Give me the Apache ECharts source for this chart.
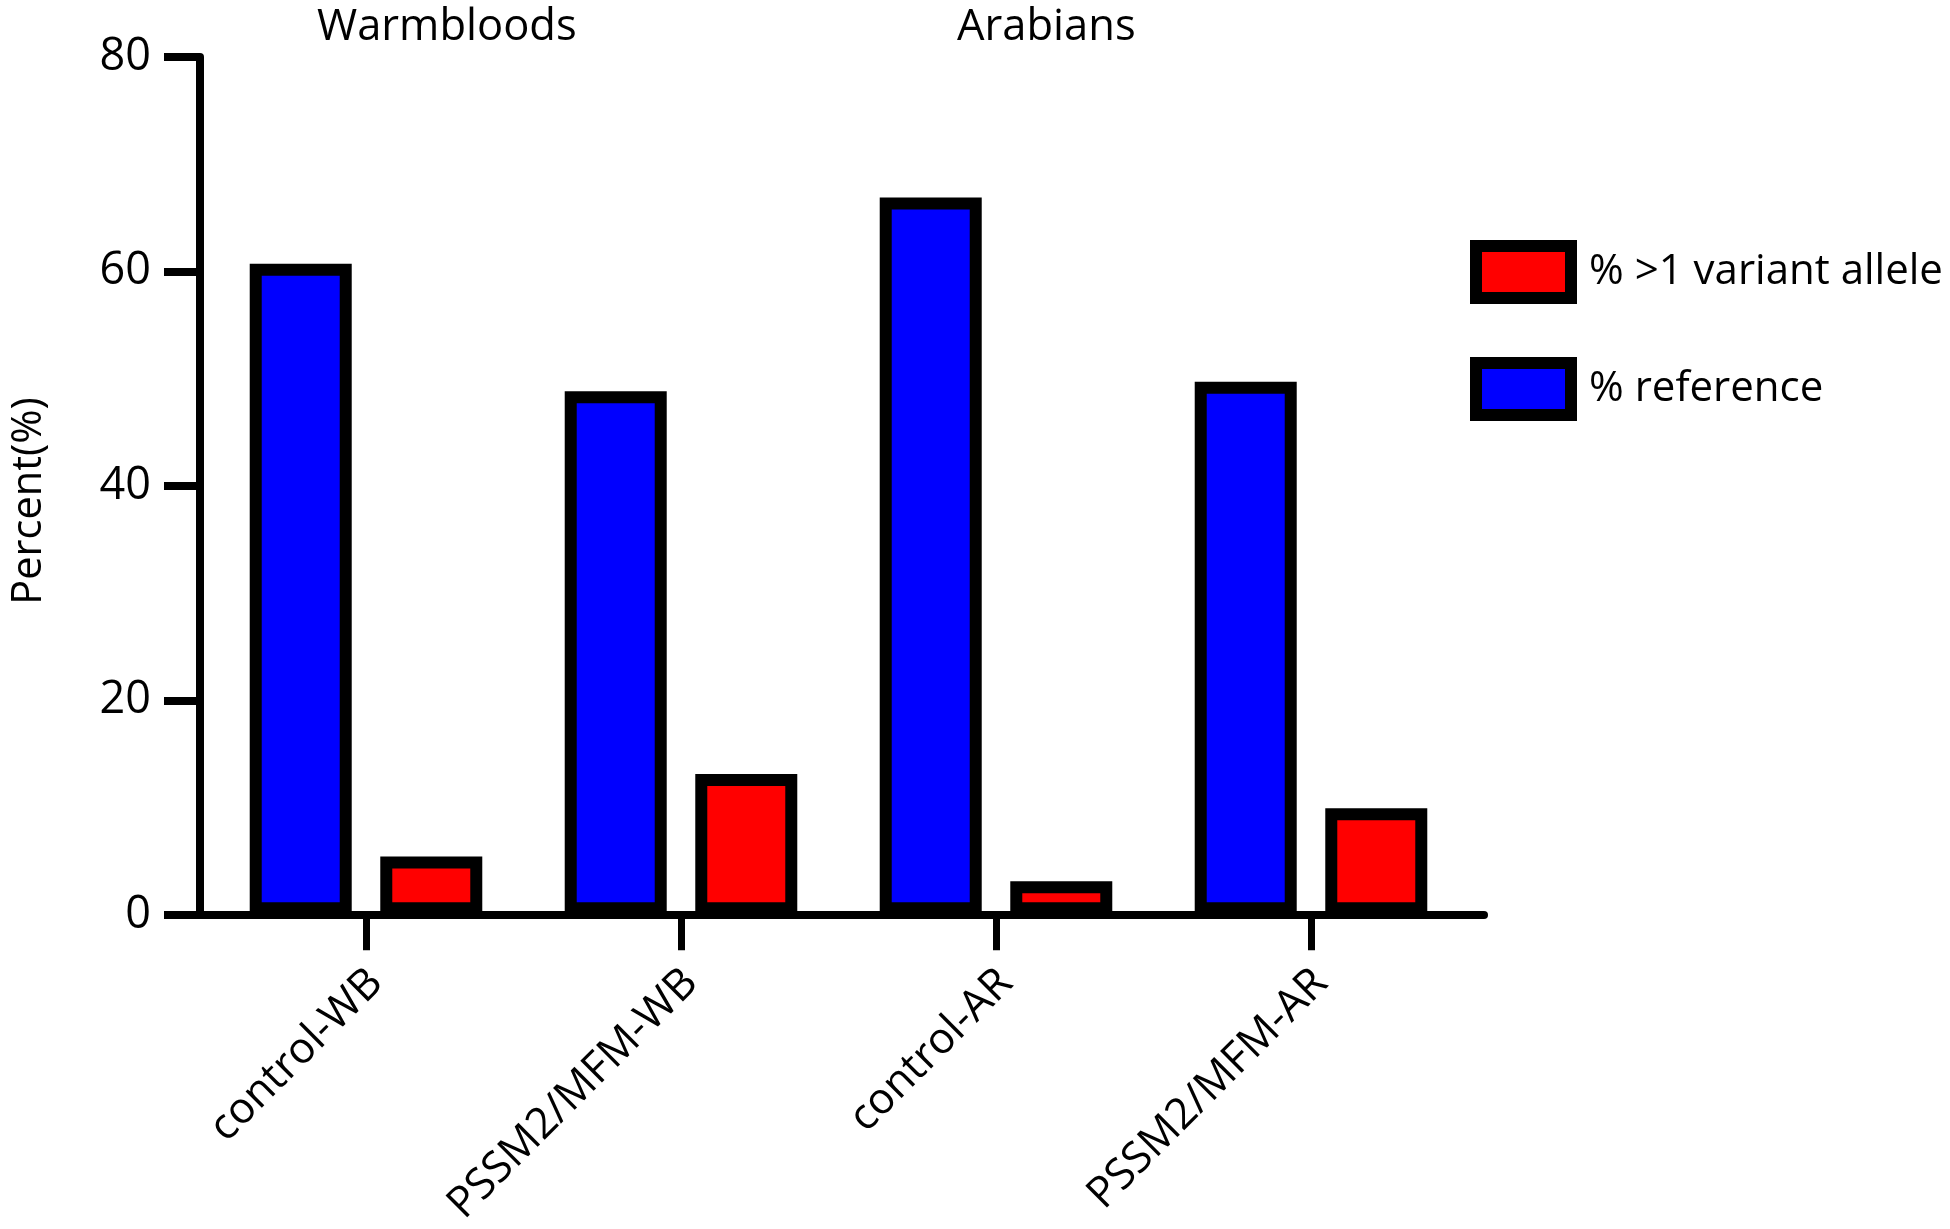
<!DOCTYPE html>
<html><head><meta charset="utf-8">
<script src="https://cdn.jsdelivr.net/npm/echarts@6/dist/echarts.min.js"></script>
<style>html,body{margin:0;padding:0;background:#fff}#c{width:1950px;height:1229px}</style>
</head><body><div id="c"></div>
<script>
const categories = ['control-WB', 'PSSM2/MFM-WB', 'control-AR', 'PSSM2/MFM-AR'];
const referenceValues = [60.7, 48.8, 66.9, 49.7];
const variantValues = [5.4, 13.1, 3.1, 9.9];
const groupTitles = ['Warmbloods', 'Arabians'];
const seriesNames = ['% reference', '% >1 variant allele'];
const yMin = 0, yMax = 80, yStep = 20;

const FONT = 'Open Sans';
const chart = echarts.init(document.getElementById('c'), null, {renderer: 'canvas'});

chart.setOption({
  backgroundColor: '#fff',
  animation: false,
  title: [
    {text: groupTitles[0], left: 317, top: 6, padding: 0, textStyle: {fontFamily: FONT, fontSize: 43.5, fontWeight: 'normal', color: '#000'}},
    {text: groupTitles[1], left: 957, top: 6, padding: 0, textStyle: {fontFamily: FONT, fontSize: 43.5, fontWeight: 'normal', color: '#000'}}
  ],
  legend: {
    orient: 'vertical', left: 1470, top: 240, padding: 0,
    data: [seriesNames[1], seriesNames[0]],
    itemWidth: 95, itemHeight: 52, itemGap: 53,
    icon: 'rect',
    itemStyle: {borderColor: '#000', borderWidth: 12},
    textStyle: {fontFamily: FONT, fontSize: 42, color: '#000', padding: [0, 0, 0, 13]},
    selectedMode: false
  },
  grid: [
    {left: 208.5, top: 57, width: 1260, height: 858, containLabel: false},
    {left: 196, top: 57, width: 1288, height: 858, containLabel: false}
  ],
  xAxis: [
    {
      type: 'category', gridIndex: 0, data: categories,
      axisLine: {show: false},
      axisTick: {show: true, alignWithLabel: true, length: 36, lineStyle: {color: '#000', width: 7}},
      axisLabel: {rotate: 45, margin: 52, fontFamily: FONT, fontSize: 43, color: '#000', interval: 0,
                  verticalAlign: 'top', lineHeight: 28}
    },
    {
      type: 'value', gridIndex: 1, min: 0, max: 1,
      axisLine: {show: true, onZero: false, lineStyle: {color: '#000', width: 8}},
      axisTick: {show: false}, axisLabel: {show: false}, splitLine: {show: false}
    }
  ],
  yAxis: [
    {type: 'value', gridIndex: 0, min: yMin, max: yMax, interval: yStep, show: false, splitLine: {show: false}},
    {
      type: 'value', gridIndex: 1, min: yMin, max: yMax, interval: yStep,
      name: 'Percent(%)', nameLocation: 'middle', nameGap: 150, nameRotate: 90,
      nameTextStyle: {fontFamily: FONT, fontSize: 41.5, color: '#000', padding: [0, 30, 0, 0]},
      axisLine: {show: true, lineStyle: {color: '#000', width: 8}},
      axisTick: {show: true, length: 36, lineStyle: {color: '#000', width: 8}},
      axisLabel: {margin: 49, fontFamily: FONT, fontSize: 45, color: '#000'},
      splitLine: {show: false}
    }
  ],
  series: [
    {
      name: seriesNames[0], type: 'bar', xAxisIndex: 0, yAxisIndex: 0,
      data: referenceValues, barWidth: 102, barGap: '28%',
      itemStyle: {color: '#0000ff', borderColor: '#000', borderWidth: 12},
      z: 1
    },
    {
      name: seriesNames[1], type: 'bar', xAxisIndex: 0, yAxisIndex: 0,
      data: variantValues, barWidth: 102, barGap: '28%',
      itemStyle: {color: '#ff0000', borderColor: '#000', borderWidth: 12},
      z: 1
    }
  ]
});
</script></body></html>
